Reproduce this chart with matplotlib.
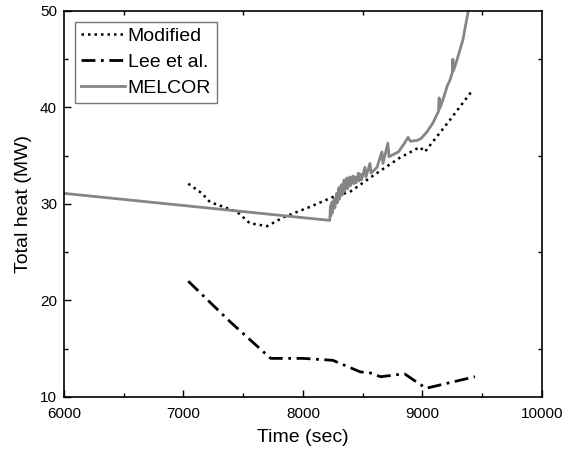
import matplotlib.pyplot as plt
from matplotlib.ticker import MultipleLocator

plt.rcParams['font.family'] = ['Liberation Sans', 'DejaVu Sans']

# Modified (dotted)
mod_t = [7040, 7155, 7222, 7448, 7556, 7700, 7833, 8059, 8285, 8393, 8619, 8812, 8979, 9021, 9230, 9420]
mod_q = [32.1, 31.1, 30.2, 29.2, 28.0, 27.7, 28.6, 29.7, 30.9, 31.25, 33.2, 34.8, 35.9, 35.4, 38.7, 41.8]

# Lee et al. (dash-dot)
lee_t = [7040, 7390, 7730, 8000, 8250, 8480, 8560, 8650, 8850, 9030, 9440]
lee_q = [22.0, 17.8, 14.0, 14.0, 13.8, 12.6, 12.5, 12.1, 12.4, 10.9, 12.1]

# MELCOR (gray, noisy after ~8200 s)
mel_t = [6000, 8225, 8230, 8234, 8238, 8243, 8248, 8254, 8262, 8267, 8272, 8282,
         8287, 8292, 8302, 8306, 8312, 8322, 8327, 8332, 8345, 8350, 8356, 8370,
         8375, 8381, 8393, 8398, 8404, 8420, 8426, 8435, 8445, 8465, 8471, 8480,
         8490, 8519, 8527, 8561, 8570, 8620, 8661, 8670, 8711, 8720, 8800, 8850,
         8880, 8900, 8960, 8990, 9040, 9088, 9135, 9140, 9145, 9172, 9210, 9230,
         9250, 9255, 9260, 9289, 9339, 9381, 9400]
mel_q = [31.1, 28.3, 29.8, 28.8, 29.4, 30.2, 29.1, 29.9, 30.5, 29.6, 30.2, 31.1,
         30.1, 30.8, 31.7, 30.5, 31.2, 32.0, 30.9, 31.5, 32.5, 31.3, 31.8, 32.7,
         31.6, 32.1, 32.8, 31.9, 32.3, 32.9, 32.1, 32.8, 32.2, 33.2, 32.4, 33.1,
         32.5, 33.8, 32.8, 34.2, 33.2, 33.8, 35.4, 34.2, 36.3, 34.9, 35.4, 36.3,
         36.9, 36.5, 36.6, 36.8, 37.5, 38.4, 39.6, 41.0, 39.9, 40.8, 42.3, 42.8,
         43.6, 45.0, 43.8, 44.9, 47.0, 49.8, 51.5]

fig = plt.figure(figsize=(5.74, 4.54), dpi=100)
ax = fig.add_axes([0.1115, 0.1256, 0.8325, 0.8502])

ax.plot(mod_t, mod_q, color='black', linestyle=(0, (1, 1.6)), linewidth=1.8, label='Modified')
ax.plot(lee_t, lee_q, color='black', linestyle=(0, (5, 2, 1, 2)), linewidth=2, label='Lee et al.')
ax.plot(mel_t, mel_q, color='#858585', linestyle='-', linewidth=2, label='MELCOR')

ax.set_xlim(6000, 10000)
ax.set_ylim(10, 50)
ax.xaxis.set_major_locator(MultipleLocator(1000))
ax.xaxis.set_minor_locator(MultipleLocator(500))
ax.yaxis.set_major_locator(MultipleLocator(10))
ax.yaxis.set_minor_locator(MultipleLocator(5))
ax.tick_params(which='both', direction='in', labelsize=11)
ax.tick_params(which='major', length=5, width=1)
ax.tick_params(which='minor', length=3, width=1, top=True, right=True)
ax.tick_params(axis='x', which='major', pad=7)
ax.tick_params(axis='y', which='major', pad=5)
for s in ax.spines.values():
    s.set_linewidth(1.2)

ax.set_xlabel('Time (sec)', fontsize=14, labelpad=6)
ax.set_ylabel('Total heat (MW)', fontsize=14, labelpad=6)

leg = ax.legend(loc='upper left', fontsize=14, fancybox=False, edgecolor='#555555',
                handlelength=2.3, handletextpad=0.12, borderpad=0.3, labelspacing=0.42,
                borderaxespad=0.55)
leg.get_frame().set_linewidth(1)

fig.savefig('out.png', dpi=100)
